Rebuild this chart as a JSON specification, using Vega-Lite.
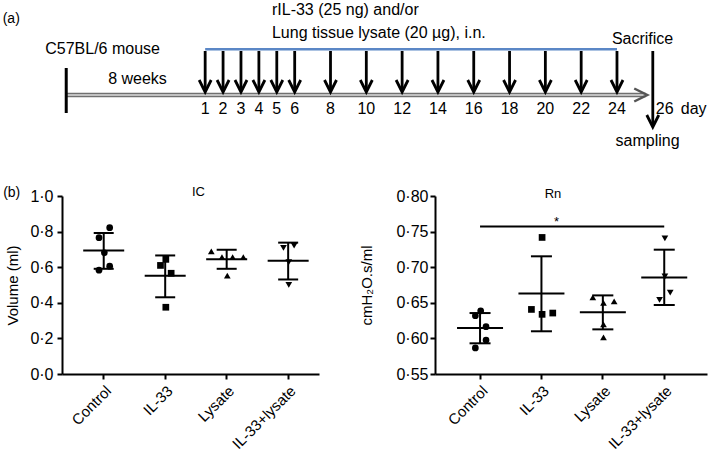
{
  "$schema": "https://vega.github.io/schema/vega-lite/v6.json",
  "padding": {"left": 2, "top": 0, "right": 0, "bottom": 0},
  "background": "white",
  "spacing": 36,
  "bounds": "flush",
  "align": "none",
  "config": {
    "view": {"stroke": null},
    "font": "Liberation Sans",
    "text": {"font": "Liberation Sans", "color": "black"},
    "axis": {"domainColor": "black", "domainWidth": 2, "tickColor": "black", "tickWidth": 2, "tickSize": 5, "labelColor": "black", "labelFont": "Liberation Sans", "labelFontSize": 15, "labelOverlap": false, "labelFlush": false, "titleFont": "Liberation Sans", "titleFontSize": 15, "titleFontWeight": "normal", "titleColor": "black", "grid": false},
    "title": {"font": "Liberation Sans", "fontSize": 13, "fontWeight": "normal", "color": "black"}
  },
  "datasets": {
    "doses": [
      {"day": 1}, {"day": 2}, {"day": 3}, {"day": 4}, {"day": 5}, {"day": 6},
      {"day": 8}, {"day": 10}, {"day": 12}, {"day": 14}, {"day": 16}, {"day": 18},
      {"day": 20}, {"day": 22}, {"day": 24}
    ],
    "one": [{}],
    "ic": [
      {"group": "Control", "volume": 0.822, "slot": 0.5},
      {"group": "Control", "volume": 0.766, "slot": -0.5},
      {"group": "Control", "volume": 0.681, "slot": 0},
      {"group": "Control", "volume": 0.583, "slot": -0.5},
      {"group": "Control", "volume": 0.606, "slot": 0.5},
      {"group": "IL-33", "volume": 0.644, "slot": 0},
      {"group": "IL-33", "volume": 0.610, "slot": -0.5},
      {"group": "IL-33", "volume": 0.566, "slot": 0.5},
      {"group": "IL-33", "volume": 0.375, "slot": 0},
      {"group": "Lysate", "volume": 0.689, "slot": -1.5},
      {"group": "Lysate", "volume": 0.657, "slot": -0.5},
      {"group": "Lysate", "volume": 0.657, "slot": 0.5},
      {"group": "Lysate", "volume": 0.657, "slot": 1.5},
      {"group": "Lysate", "volume": 0.553, "slot": 0},
      {"group": "IL-33+lysate", "volume": 0.709, "slot": -0.5},
      {"group": "IL-33+lysate", "volume": 0.721, "slot": 0.5},
      {"group": "IL-33+lysate", "volume": 0.628, "slot": 0},
      {"group": "IL-33+lysate", "volume": 0.501, "slot": 0}
    ],
    "ic_summary": [
      {"group": "Control", "mean": 0.694, "sd_low": 0.591, "sd_high": 0.792},
      {"group": "IL-33", "mean": 0.552, "sd_low": 0.431, "sd_high": 0.666},
      {"group": "Lysate", "mean": 0.644, "sd_low": 0.591, "sd_high": 0.698},
      {"group": "IL-33+lysate", "mean": 0.636, "sd_low": 0.531, "sd_high": 0.738}
    ],
    "rn": [
      {"group": "Control", "resistance": 0.6388, "slot": 0},
      {"group": "Control", "resistance": 0.6318, "slot": -0.5},
      {"group": "Control", "resistance": 0.6164, "slot": 0.5},
      {"group": "Control", "resistance": 0.5977, "slot": 0.5},
      {"group": "Control", "resistance": 0.5866, "slot": -0.5},
      {"group": "IL-33", "resistance": 0.7418, "slot": 0},
      {"group": "IL-33", "resistance": 0.6407, "slot": -1},
      {"group": "IL-33", "resistance": 0.6338, "slot": 0},
      {"group": "IL-33", "resistance": 0.6356, "slot": 1},
      {"group": "Lysate", "resistance": 0.6576, "slot": -1},
      {"group": "Lysate", "resistance": 0.6500, "slot": 0},
      {"group": "Lysate", "resistance": 0.6520, "slot": 1},
      {"group": "Lysate", "resistance": 0.6198, "slot": 0},
      {"group": "Lysate", "resistance": 0.6015, "slot": 0},
      {"group": "IL-33+lysate", "resistance": 0.7404, "slot": 0},
      {"group": "IL-33+lysate", "resistance": 0.6869, "slot": 0},
      {"group": "IL-33+lysate", "resistance": 0.6643, "slot": 0.5},
      {"group": "IL-33+lysate", "resistance": 0.6540, "slot": -0.5}
    ],
    "rn_summary": [
      {"group": "Control", "mean": 0.6146, "sd_low": 0.5931, "sd_high": 0.6356},
      {"group": "IL-33", "mean": 0.6632, "sd_low": 0.6100, "sd_high": 0.7153},
      {"group": "Lysate", "mean": 0.6366, "sd_low": 0.6127, "sd_high": 0.6604},
      {"group": "IL-33+lysate", "mean": 0.6855, "sd_low": 0.6469, "sd_high": 0.7246}
    ]
  },
  "vconcat": [
    {
      "width": 648,
      "height": 160,
      "layer": [
        {
          "data": {"name": "one"},
          "mark": {"type": "rule", "color": "#707070", "strokeWidth": 4.5},
          "encoding": {
            "x": {"datum": -6.76, "type": "quantitative", "scale": {"domain": [-6.996, 29.195], "nice": false, "zero": false}, "axis": null},
            "x2": {"datum": 25.6},
            "y": {"datum": 95, "type": "quantitative", "scale": {"domain": [0, 160], "reverse": true, "nice": false, "zero": false}, "axis": null}
          }
        },
        {
          "data": {"name": "one"},
          "mark": {"type": "rule", "color": "#dcdcdc", "strokeWidth": 1.4},
          "encoding": {"x": {"datum": -6.76, "type": "quantitative"}, "x2": {"datum": 25.6}, "y": {"datum": 95, "type": "quantitative"}}
        },
        {
          "data": {"name": "one"},
          "mark": {"type": "point", "shape": "M-2,-1L0,0L-2,1", "size": 169, "filled": false, "stroke": "#555555", "strokeWidth": 2.5, "opacity": 1},
          "encoding": {"x": {"datum": 25.69, "type": "quantitative"}, "y": {"datum": 95, "type": "quantitative"}}
        },
        {
          "data": {"name": "one"},
          "mark": {"type": "rule", "color": "black", "strokeWidth": 3},
          "encoding": {"x": {"datum": -6.76, "type": "quantitative"}, "y": {"datum": 68, "type": "quantitative"}, "y2": {"datum": 113}}
        },
        {
          "data": {"name": "one"},
          "mark": {"type": "rule", "color": "#5b87c6", "strokeWidth": 2.5},
          "encoding": {"x": {"datum": 1, "type": "quantitative"}, "x2": {"datum": 24}, "y": {"datum": 49.3, "type": "quantitative"}}
        },
        {
          "data": {"name": "doses"},
          "mark": {"type": "rule", "color": "black", "strokeWidth": 2.8},
          "encoding": {"x": {"field": "day", "type": "quantitative"}, "y": {"datum": 51, "type": "quantitative"}, "y2": {"datum": 91}}
        },
        {
          "data": {"name": "doses"},
          "mark": {"type": "point", "shape": "M-1,-2L0,0L1,-2", "size": 144, "filled": false, "stroke": "black", "strokeWidth": 2.8, "opacity": 1},
          "encoding": {"x": {"field": "day", "type": "quantitative"}, "y": {"datum": 92, "type": "quantitative"}}
        },
        {
          "data": {"name": "doses"},
          "mark": {"type": "text", "fontSize": 16, "baseline": "middle", "align": "center"},
          "encoding": {"x": {"field": "day", "type": "quantitative"}, "y": {"datum": 108.5, "type": "quantitative"}, "text": {"field": "day", "type": "quantitative"}}
        },
        {
          "data": {"name": "one"},
          "mark": {"type": "rule", "color": "black", "strokeWidth": 2.8},
          "encoding": {"x": {"datum": 26, "type": "quantitative"}, "y": {"datum": 51, "type": "quantitative"}, "y2": {"datum": 126}}
        },
        {
          "data": {"name": "one"},
          "mark": {"type": "point", "shape": "M-1,-2L0,0L1,-2", "size": 144, "filled": false, "stroke": "black", "strokeWidth": 2.8, "opacity": 1},
          "encoding": {"x": {"datum": 26, "type": "quantitative"}, "y": {"datum": 127, "type": "quantitative"}}
        },
        {
          "data": {"name": "one"},
          "mark": {"type": "text", "text": "(a)", "fontSize": 14, "baseline": "middle", "align": "center"},
          "encoding": {"x": {"datum": -9.83, "type": "quantitative"}, "y": {"datum": 19, "type": "quantitative"}}
        },
        {
          "data": {"name": "one"},
          "mark": {"type": "text", "text": "C57BL/6 mouse", "fontSize": 16, "baseline": "middle", "align": "center"},
          "encoding": {"x": {"datum": -4.73, "type": "quantitative"}, "y": {"datum": 49.3, "type": "quantitative"}}
        },
        {
          "data": {"name": "one"},
          "mark": {"type": "text", "text": "8 weeks", "fontSize": 16, "baseline": "middle", "align": "center"},
          "encoding": {"x": {"datum": -2.78, "type": "quantitative"}, "y": {"datum": 79.3, "type": "quantitative"}}
        },
        {
          "data": {"name": "one"},
          "mark": {"type": "text", "text": "rIL-33 (25 ng) and/or", "fontSize": 16, "baseline": "middle", "align": "left"},
          "encoding": {"x": {"datum": 4.73, "type": "quantitative"}, "y": {"datum": 9.5, "type": "quantitative"}}
        },
        {
          "data": {"name": "one"},
          "mark": {"type": "text", "text": "Lung tissue lysate (20 µg), i.n.", "fontSize": 16, "baseline": "middle", "align": "left"},
          "encoding": {"x": {"datum": 4.73, "type": "quantitative"}, "y": {"datum": 33.3, "type": "quantitative"}}
        },
        {
          "data": {"name": "one"},
          "mark": {"type": "text", "text": "Sacrifice", "fontSize": 16, "baseline": "middle", "align": "center"},
          "encoding": {"x": {"datum": 25.43, "type": "quantitative"}, "y": {"datum": 39, "type": "quantitative"}}
        },
        {
          "data": {"name": "one"},
          "mark": {"type": "text", "text": "sampling", "fontSize": 16, "baseline": "middle", "align": "center"},
          "encoding": {"x": {"datum": 25.71, "type": "quantitative"}, "y": {"datum": 141, "type": "quantitative"}}
        },
        {
          "data": {"name": "one"},
          "mark": {"type": "text", "text": "26", "fontSize": 16, "baseline": "middle", "align": "left", "dx": 3},
          "encoding": {"x": {"datum": 26, "type": "quantitative"}, "y": {"datum": 108.5, "type": "quantitative"}}
        },
        {
          "data": {"name": "one"},
          "mark": {"type": "text", "text": "day", "fontSize": 16, "baseline": "middle", "align": "left", "dx": 28},
          "encoding": {"x": {"datum": 26, "type": "quantitative"}, "y": {"datum": 108.5, "type": "quantitative"}}
        }
      ]
    },
    {
      "spacing": 116,
      "bounds": "flush",
      "align": "none",
      "hconcat": [
        {
          "width": 257,
          "height": 178,
          "title": {"text": "IC", "offset": 1, "dy": 14, "dx": 8},
          "layer": [
            {
              "data": {"name": "ic"},
              "mark": {"type": "point", "filled": true, "color": "black", "size": 45, "opacity": 1},
              "encoding": {
                "x": {"field": "group", "type": "nominal", "title": null,
                      "scale": {"type": "band", "domain": ["Control", "IL-33", "Lysate", "IL-33+lysate"], "paddingInner": 0.5, "paddingOuter": 0.34, "align": 0.63},
                      "axis": {"labelAngle": -45, "labelPadding": 4}},
                "xOffset": {"field": "slot", "type": "quantitative", "scale": {"domain": [-1.5, 1.5], "range": [0, 32]}},
                "y": {"field": "volume", "type": "quantitative", "title": "Volume (ml)",
                      "scale": {"domain": [0, 1], "nice": false, "zero": false},
                      "axis": {"values": [0, 0.2, 0.4, 0.6, 0.8, 1], "tickCount": 12, "labelExpr": "replace(format(datum.value, '.1f'), '.', '·')", "labelFontSize": 16, "titlePadding": 9, "labelPadding": 4, "labelOverlap": false}},
                "shape": {"field": "group", "type": "nominal", "scale": {"domain": ["Control", "IL-33", "Lysate", "IL-33+lysate"], "range": ["circle", "square", "triangle-up", "triangle-down"]}, "legend": null}
              }
            },
            {
              "data": {"name": "ic_summary"},
              "mark": {"type": "rule", "color": "black", "strokeWidth": 2},
              "encoding": {
                "x": {"field": "group", "type": "nominal", "title": null, "bandPosition": 0.5},
                "y": {"field": "sd_low", "type": "quantitative", "title": "Volume (ml)"},
                "y2": {"field": "sd_high"}
              }
            },
            {
              "data": {"name": "ic_summary"},
              "mark": {"type": "tick", "color": "black", "thickness": 2, "size": 41, "opacity": 1},
              "encoding": {
                "x": {"field": "group", "type": "nominal", "title": null},
                "y": {"field": "mean", "type": "quantitative", "title": "Volume (ml)"}
              }
            },
            {
              "data": {"name": "ic_summary"},
              "mark": {"type": "tick", "color": "black", "thickness": 2, "size": 20, "opacity": 1},
              "encoding": {
                "x": {"field": "group", "type": "nominal", "title": null},
                "y": {"field": "sd_low", "type": "quantitative", "title": "Volume (ml)"}
              }
            },
            {
              "data": {"name": "ic_summary"},
              "mark": {"type": "tick", "color": "black", "thickness": 2, "size": 20, "opacity": 1},
              "encoding": {
                "x": {"field": "group", "type": "nominal", "title": null},
                "y": {"field": "sd_high", "type": "quantitative", "title": "Volume (ml)"}
              }
            },
            {
              "data": {"name": "one"},
              "mark": {"type": "text", "text": "(b)", "fontSize": 14, "baseline": "middle", "align": "center", "dx": -92, "dy": -3},
              "encoding": {
                "x": {"datum": "Control", "type": "nominal", "title": null},
                "y": {"datum": 1, "type": "quantitative", "title": "Volume (ml)"}
              }
            }
          ]
        },
        {
          "width": 272,
          "height": 178,
          "title": {"text": "Rn", "offset": 1, "dy": 14, "dx": -18},
          "layer": [
            {
              "data": {"name": "rn"},
              "mark": {"type": "point", "filled": true, "color": "black", "size": 45, "opacity": 1},
              "encoding": {
                "x": {"field": "group", "type": "nominal", "title": null,
                      "scale": {"type": "band", "domain": ["Control", "IL-33", "Lysate", "IL-33+lysate"], "paddingInner": 0.5, "paddingOuter": 0.465, "align": 0.52},
                      "axis": {"labelAngle": -45, "labelPadding": 4}},
                "xOffset": {"field": "slot", "type": "quantitative", "scale": {"domain": [-1.5, 1.5], "range": [0, 32]}},
                "y": {"field": "resistance", "type": "quantitative", "title": "cmH₂O.s/ml",
                      "scale": {"domain": [0.55, 0.8], "nice": false, "zero": false},
                      "axis": {"values": [0.55, 0.6, 0.65, 0.7, 0.75, 0.8], "tickCount": 12, "labelExpr": "replace(format(datum.value, '.2f'), '.', '·')", "labelFontSize": 16, "titlePadding": 21, "labelPadding": 2, "labelOverlap": false}},
                "shape": {"field": "group", "type": "nominal", "scale": {"domain": ["Control", "IL-33", "Lysate", "IL-33+lysate"], "range": ["circle", "square", "triangle-up", "triangle-down"]}, "legend": null}
              }
            },
            {
              "data": {"name": "rn_summary"},
              "mark": {"type": "rule", "color": "black", "strokeWidth": 2},
              "encoding": {
                "x": {"field": "group", "type": "nominal", "title": null, "bandPosition": 0.5},
                "y": {"field": "sd_low", "type": "quantitative", "title": "cmH₂O.s/ml"},
                "y2": {"field": "sd_high"}
              }
            },
            {
              "data": {"name": "rn_summary"},
              "mark": {"type": "tick", "color": "black", "thickness": 2, "size": 46, "opacity": 1},
              "encoding": {
                "x": {"field": "group", "type": "nominal", "title": null},
                "y": {"field": "mean", "type": "quantitative", "title": "cmH₂O.s/ml"}
              }
            },
            {
              "data": {"name": "rn_summary"},
              "mark": {"type": "tick", "color": "black", "thickness": 2, "size": 21, "opacity": 1},
              "encoding": {
                "x": {"field": "group", "type": "nominal", "title": null},
                "y": {"field": "sd_low", "type": "quantitative", "title": "cmH₂O.s/ml"}
              }
            },
            {
              "data": {"name": "rn_summary"},
              "mark": {"type": "tick", "color": "black", "thickness": 2, "size": 21, "opacity": 1},
              "encoding": {
                "x": {"field": "group", "type": "nominal", "title": null},
                "y": {"field": "sd_high", "type": "quantitative", "title": "cmH₂O.s/ml"}
              }
            },
            {
              "data": {"name": "one"},
              "mark": {"type": "rule", "color": "black", "strokeWidth": 2},
              "encoding": {
                "x": {"datum": "Control", "type": "nominal", "title": null, "bandPosition": 0.5},
                "x2": {"datum": "IL-33+lysate", "bandPosition": 0.5},
                "y": {"datum": 0.757, "type": "quantitative", "title": "cmH₂O.s/ml"}
              }
            },
            {
              "data": {"name": "one"},
              "mark": {"type": "text", "text": "*", "fontSize": 13, "baseline": "alphabetic", "align": "center", "dx": 15, "dy": -1},
              "encoding": {
                "x": {"datum": "IL-33", "type": "nominal", "title": null},
                "y": {"datum": 0.757, "type": "quantitative", "title": "cmH₂O.s/ml"}
              }
            }
          ]
        }
      ]
    }
  ]
}
